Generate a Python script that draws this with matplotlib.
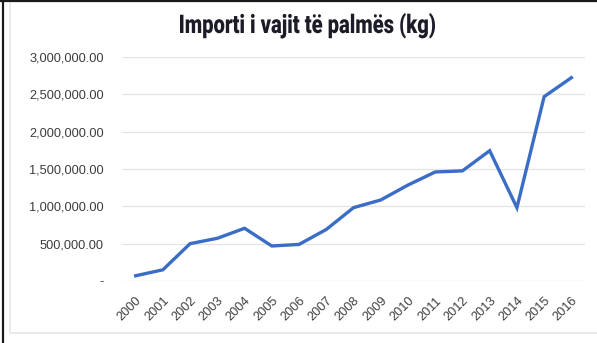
import matplotlib
matplotlib.use("Agg")
import matplotlib.pyplot as plt
from matplotlib.lines import Line2D
from matplotlib.patches import Rectangle, PathPatch
from matplotlib.textpath import TextPath
from matplotlib.font_manager import FontProperties
from matplotlib.transforms import Affine2D, IdentityTransform
from matplotlib.ticker import FuncFormatter

# Palm oil imports by year (kg)
years = [str(y) for y in range(2000, 2017)]
imports_kg = [70000, 150000, 500000, 572000, 706000, 469000, 490000,
              690000, 982000, 1085000, 1285000, 1460000, 1475000,
              1745000, 982000, 2469000, 2723000]
y_ticks = [0, 500000, 1000000, 1500000, 2000000, 2500000, 3000000]

title = "Importi i vajit të palmës (kg)"

W, H = 597, 343


def money_fmt(v, pos):
    # accounting style: zero shown as a dash
    if v == 0:
        return "-"
    return f"{v:,.2f}"


fig = plt.figure(figsize=(W / 100, H / 100), dpi=100)
fig.patch.set_facecolor("white")

# outer frame pieces
fig.add_artist(Rectangle((10 / W, 10 / H), 1.0, 1.0, transform=fig.transFigure,
                         fill=False, edgecolor="#e6e6e6", lw=1.2))
fig.add_artist(Line2D([3 / W, 3 / W], [0, 1], transform=fig.transFigure,
                      color="#1a1a1a", lw=1.6))
fig.add_artist(Line2D([0, 1], [0.998, 0.998], transform=fig.transFigure,
                      color="#1a1a1a", lw=1.6))

ax = fig.add_axes([122 / W, 1 - 281 / H, (585 - 122) / W, (281 - 57) / H])
x = list(range(len(years)))
ax.plot(x, imports_kg, color="#3a6dc6", lw=2.4, solid_joinstyle="miter", zorder=3)

ax.set_xlim(-0.5, len(years) - 0.5)
ax.set_ylim(0, 3000000)
ax.set_yticks(y_ticks)
ax.yaxis.set_major_formatter(FuncFormatter(money_fmt))
ax.set_xticks(x)
ax.set_xticklabels(years, rotation=45, ha="right", rotation_mode="anchor")

for s in ax.spines.values():
    s.set_visible(False)
ax.grid(axis="y", color="#e3e3e3", lw=0.9)
ax.set_axisbelow(True)
ax.tick_params(length=0, labelsize=9.2, colors="#3c3c3c", labelfontfamily="Liberation Sans")
ax.tick_params(axis="y", pad=13)
ax.tick_params(axis="x", pad=10)

# condensed bold title: squeeze a text path horizontally
fp = FontProperties(family="Roboto", weight="black")
tp = TextPath((0, 0), title, size=18.5, prop=fp)
ext = tp.get_extents()
sx = 255 / (ext.width * 100 / 72)
sy = 100 / 72
title_tf = (Affine2D().translate(-ext.x0, 0).scale(sx * 100 / 72, sy)
            .translate(180, H - 33))
fig.add_artist(PathPatch(tp, transform=title_tf + IdentityTransform(),
                         facecolor="#1c1c28", edgecolor="none"))

fig.savefig("out.png", dpi=100)
